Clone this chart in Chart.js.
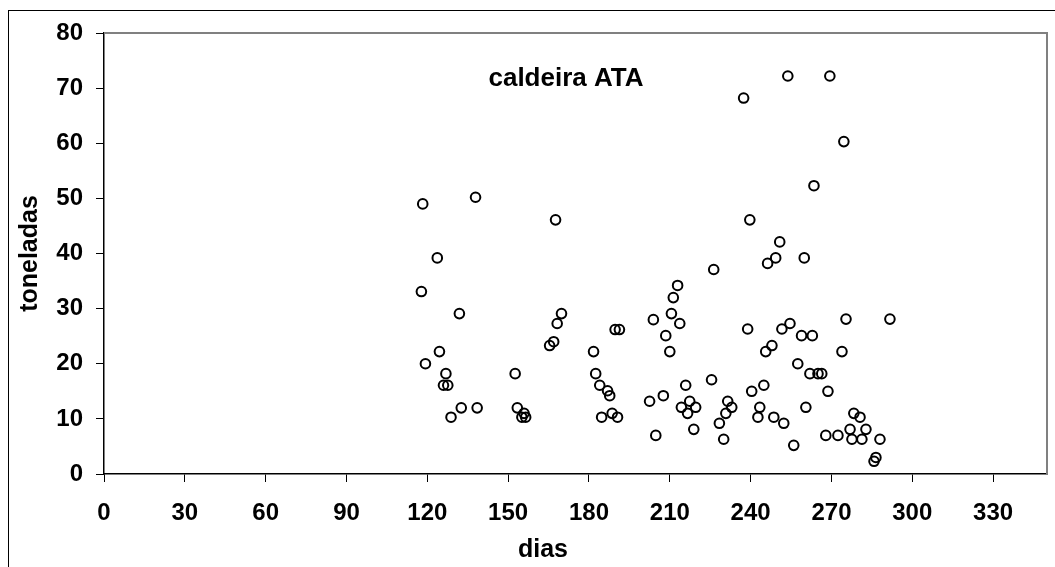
<!DOCTYPE html>
<html>
<head>
<meta charset="utf-8">
<script src="https://cdn.jsdelivr.net/npm/chart.js@4/dist/chart.umd.min.js"></script>
<style>
  html, body { margin: 0; padding: 0; background: #fff; }
  #wrap { width: 1055px; height: 567px; }
</style>
</head>
<body>
<div id="wrap"><canvas id="chart"></canvas></div>
<script>
const chartTitle = "caldeira ATA";
const xTitle = "dias";
const yTitle = "toneladas";

// dias
const dias = [
    118.3, 137.9, 167.6, 123.7, 117.8, 131.9, 169.8, 168.2, 166.9, 165.4,
    124.5, 119.3, 152.6, 126.9, 126.0, 127.6, 132.6, 138.5, 128.8, 153.4,
    155.9, 155.1, 156.5, 181.7, 182.5, 184.0, 186.9, 187.7, 188.6, 184.7,
    190.6, 189.7, 191.3, 202.5, 204.8, 207.6, 203.9, 208.5, 210.0, 210.6,
    211.3, 212.9, 213.7, 215.9, 217.4, 214.3, 219.6, 216.6, 218.9, 226.3,
    225.5, 231.5, 233.0, 230.8, 228.4, 230.0, 253.8, 269.4, 237.4, 274.6,
    263.5, 239.7, 250.8, 249.3, 246.3, 259.9, 275.4, 291.7, 238.9, 251.6,
    254.6, 258.9, 262.9, 247.9, 245.6, 273.9, 257.5, 262.0, 265.0, 266.4,
    268.7, 240.4, 244.9, 243.4, 242.7, 248.6, 252.3, 260.5, 256.0, 267.9,
    272.4, 278.3, 280.6, 276.9, 282.8, 277.6, 281.3, 288.0, 286.5, 285.8
];

// toneladas
const toneladas = [
    49.0, 50.2, 46.1, 39.2, 33.1, 29.1, 29.1, 27.3, 24.0, 23.3,
    22.2, 20.0, 18.2, 18.2, 16.1, 16.1, 12.0, 12.0, 10.3, 12.0,
    11.0, 10.3, 10.3, 22.2, 18.2, 16.1, 15.1, 14.2, 11.0, 10.3,
    10.3, 26.2, 26.2, 13.2, 7.0, 14.2, 28.0, 25.1, 22.2, 29.1,
    32.0, 34.2, 27.3, 16.1, 13.2, 12.1, 12.1, 11.0, 8.1, 37.1,
    17.1, 13.2, 12.1, 11.0, 9.2, 6.3, 72.2, 72.2, 68.2, 60.3,
    52.3, 46.1, 42.1, 39.2, 38.2, 39.2, 28.1, 28.1, 26.3, 26.3,
    27.3, 25.1, 25.1, 23.3, 22.2, 22.2, 20.0, 18.2, 18.2, 18.2,
    15.0, 15.0, 16.1, 12.1, 10.3, 10.3, 9.2, 12.1, 5.2, 7.0,
    7.0, 11.0, 10.3, 8.1, 8.1, 6.3, 6.3, 6.3, 3.0, 2.3
];

// eixos
const xTicks = [0, 30, 60, 90, 120, 150, 180, 210, 240, 270, 300, 330];
const yTicks = [0, 10, 20, 30, 40, 50, 60, 70, 80];
const xMin = 0, xMax = 350;
const yMin = 0, yMax = 80;

const points = dias.map((d, i) => ({ x: d, y: toneladas[i] }));

const FONT = "'Liberation Sans', Arial, sans-serif";

// moldura, borda da área do gráfico e textos
const frame = {
    id: "frame",
    beforeDraw(c) {
        const ctx = c.ctx;
        ctx.save();
        ctx.fillStyle = "#fff";
        ctx.fillRect(0, 0, c.width, c.height);
        ctx.strokeStyle = "#000";
        ctx.lineWidth = 1;
        ctx.strokeRect(8.5, 10.5, 1200, 700);
        ctx.restore();
    },
    afterDraw(c) {
        const ctx = c.ctx;
        const a = c.chartArea;
        ctx.save();
        ctx.strokeStyle = "#808080";
        ctx.lineWidth = 2;
        ctx.beginPath();
        ctx.moveTo(a.left, a.top);
        ctx.lineTo(a.right, a.top);
        ctx.lineTo(a.right, a.bottom);
        ctx.stroke();

        ctx.fillStyle = "#000";
        ctx.textAlign = "center";
        ctx.textBaseline = "middle";
        ctx.font = "bold 26px " + FONT;
        ctx.fillText(chartTitle, 566, 79);
        ctx.font = "bold 25px " + FONT;
        ctx.fillText(xTitle, 543, 550);
        ctx.restore();
    }
};

new Chart(document.getElementById("chart"), {
    type: "scatter",
    data: {
        datasets: [{
            data: points,
            borderColor: "#000",
            backgroundColor: "rgba(0,0,0,0)",
            borderWidth: 2,
            pointRadius: 4.8,
            pointHoverRadius: 4.8
        }]
    },
    options: {
        responsive: true,
        maintainAspectRatio: false,
        animation: false,
        events: [],
        layout: { padding: { top: 33, right: 8, left: 0, bottom: 0 } },
        plugins: {
            legend: { display: false },
            tooltip: { enabled: false }
        },
        scales: {
            x: {
                type: "linear",
                min: xMin,
                max: xMax,
                afterBuildTicks: s => { s.ticks = xTicks.map(v => ({ value: v })); },
                afterFit: s => { s.height = 93; },
                ticks: {
                    autoSkip: false,
                    color: "#000",
                    padding: 17,
                    font: { family: FONT, size: 24, weight: "bold" }
                },
                grid: { drawOnChartArea: false, drawTicks: true, tickLength: 8, tickColor: "#000", tickWidth: 1 },
                border: { display: true, color: "#000", width: 1.5 }
            },
            y: {
                min: yMin,
                max: yMax,
                afterBuildTicks: s => { s.ticks = yTicks.map(v => ({ value: v })); },
                afterFit: s => { s.width = 104; },
                title: {
                    display: true,
                    text: yTitle,
                    color: "#000",
                    padding: { top: 15, bottom: 0 },
                    font: { family: FONT, size: 25, weight: "bold" }
                },
                ticks: {
                    autoSkip: false,
                    color: "#000",
                    padding: 13,
                    font: { family: FONT, size: 24, weight: "bold" }
                },
                grid: { drawOnChartArea: false, drawTicks: true, tickLength: 8, tickColor: "#000", tickWidth: 1 },
                border: { display: true, color: "#000", width: 1.5 }
            }
        }
    },
    plugins: [frame]
});
</script>
</body>
</html>
